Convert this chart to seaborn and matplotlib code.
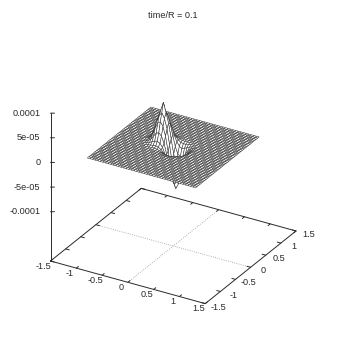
import numpy as np
import matplotlib
matplotlib.use("Agg")
import matplotlib.pyplot as plt
import seaborn as sns
from mpl_toolkits.mplot3d import proj3d

sns.set_theme(style="white", font="Liberation Sans")

TITLE = "time/R = 0.1"
axis_ticks = [-1.5, -1, -0.5, 0, 0.5, 1, 1.5]
axis_tick_labels = ["-1.5", "-1", "-0.5", "0", "0.5", "1", "1.5"]
z_ticks = [-1e-4, -5e-5, 0, 5e-5, 1e-4]
z_tick_labels = ["-0.0001", "-5e-05", "0", "5e-05", "0.0001"]
z_floor = -2e-4

# surface mesh: flat at zero except for the feature near the centre
mesh_lines = np.linspace(-1.05, 1.05, 43)
feature_x = [-.55, -.50, -.45, -.40, -.35, -.30, -.25, -.20, -.15, -.10, -.05, 0, .05, .10, .15, .20, .25, .30]
feature_y = [.40, .35, .30, .25, .20, .15, .10, .05, 0, -.05, -.10, -.15, -.20, -.25, -.30]
# heights in units of 1e-5 (rows follow feature_y)
feature_z = [
    [0, 0, 0, 0, .05, .08, .1, .08, .05, 0, 0, 0, 0, 0, 0, 0, 0, 0],
    [0, 0, .05, .1, .2, .3, .35, .3, .2, .1, .03, -.02, -.03, -.02, 0, 0, 0, 0],
    [0, .05, .15, .35, .65, .95, 1.1, .95, .65, .32, .1, -.05, -.1, -.1, -.05, -.03, 0, 0],
    [0, .1, .35, .85, 1.6, 2.3, 2.6, 2.3, 1.55, .75, .15, -.2, -.35, -.3, -.2, -.1, -.05, 0],
    [.05, .2, .65, 1.6, 3.0, 4.1, 4.6, 4.05, 2.85, 1.25, .05, -.7, -1.05, -.9, -.6, -.35, -.15, -.05],
    [.1, .3, .95, 2.3, 4.1, 5.4, 6.2, 5.3, 3.75, 1.5, -.65, -2.0, -2.5, -2.3, -1.6, -.8, -.35, -.1],
    [.1, .35, 1.1, 2.6, 4.6, 6.2, 7.95, 6.0, 4.0, 1.0, -1.9, -3.95, -4.9, -4.3, -3.0, -1.6, -.6, -.2],
    [.1, .3, .95, 2.3, 4.1, 5.4, 6.1, 5.1, 3.2, 0, -3.35, -6.0, -7.0, -6.3, -4.3, -2.3, -.9, -.3],
    [.05, .2, .65, 1.6, 3.0, 4.1, 4.5, 3.75, 1.9, -1.0, -4.35, -6.9, -8.15, -7.1, -5.0, -2.6, -1.1, -.35],
    [0, .1, .35, .85, 1.6, 2.3, 2.5, 2.0, .7, -1.45, -4.2, -6.2, -7.1, -6.3, -4.3, -2.3, -.9, -.3],
    [0, .05, .15, .35, .65, .9, 1.05, .75, .05, -1.25, -2.85, -4.25, -5.0, -4.3, -3.0, -1.6, -.6, -.2],
    [0, 0, .05, .1, .2, .3, .3, .2, -.15, -.7, -1.6, -2.3, -2.6, -2.3, -1.6, -.8, -.35, -.1],
    [0, 0, 0, 0, .05, .08, .1, .03, -.1, -.35, -.6, -.9, -1.1, -.9, -.6, -.35, -.15, -.05],
    [0, 0, 0, 0, 0, 0, 0, -.02, -.05, -.1, -.2, -.3, -.35, -.3, -.2, -.1, -.05, 0],
    [0, 0, 0, 0, 0, 0, 0, 0, -.02, -.03, -.05, -.1, -.1, -.1, -.05, -.03, 0, 0],
]

Z = np.zeros((mesh_lines.size, mesh_lines.size))
for r, fy in enumerate(feature_y):
    for c, fx in enumerate(feature_x):
        Z[np.argmin(abs(mesh_lines - fy)), np.argmin(abs(mesh_lines - fx))] = feature_z[r][c] * 1e-5
X, Y = np.meshgrid(mesh_lines, mesh_lines)

W, H = 346, 345
fig = plt.figure(figsize=(W / 100, H / 100), dpi=100)
ax = fig.add_axes([0, 0, 1, 1], projection="3d", proj_type="ortho", computed_zorder=False)
ax.set_box_aspect((180, 180, 168))
ax.view_init(elev=28, azim=-59.6)
ax.set_xlim(-1.5, 1.5)
ax.set_ylim(-1.5, 1.5)
ax.set_zlim(z_floor, 1e-4)
ax.set_axis_off()
ax.patch.set_alpha(0)

INK = "#2a2a2a"
lw = 0.7
e = 1.5
# base frame
ax.plot([-e, e, e, -e, -e], [-e, -e, e, e, -e], [z_floor] * 5, color=INK, lw=lw, zorder=1)
# vertical axis
ax.plot([-e, -e], [-e, -e], [z_floor, z_ticks[-1]], color=INK, lw=lw, zorder=1)
# dotted zero lines on the floor
ax.plot([0, 0], [-e, e], [z_floor] * 2, color="#999999", lw=0.6, ls=":", zorder=1)
ax.plot([-e, e], [0, 0], [z_floor] * 2, color="#999999", lw=0.6, ls=":", zorder=1)

tl = 0.07
for t in axis_ticks:
    ax.plot([t, t], [-e, -e + tl], [z_floor] * 2, color=INK, lw=lw, zorder=1)
    ax.plot([t, t], [e, e - tl], [z_floor] * 2, color=INK, lw=lw, zorder=1)
    ax.plot([-e, -e + tl], [t, t], [z_floor] * 2, color=INK, lw=lw, zorder=1)
    ax.plot([e, e - tl], [t, t], [z_floor] * 2, color=INK, lw=lw, zorder=1)
for t in z_ticks:
    ax.plot([-e, -e + 0.0575], [-e, -e + 0.034], [t, t], color=INK, lw=lw, zorder=1)

ax.plot_surface(X, Y, Z, rstride=1, cstride=1, color="white", shade=False,
                edgecolor="#383838", linewidth=0.38, antialiased=True, zorder=3)


def pixel(x, y, z):
    ax.apply_aspect()
    px, py, _ = proj3d.proj_transform(x, y, z, ax.get_proj())
    return ax.transData.transform((px, py))


# place the axes so the floor corners fall where the reference has them
target_left = np.array([50.5, H - 261.0])
target_right = np.array([296.0, H - 230.0])
for _ in range(3):
    a, b = pixel(-e, -e, z_floor), pixel(e, e, z_floor)
    scale = (target_right[0] - target_left[0]) / (b[0] - a[0])
    pos = ax.get_position(original=True)
    size = pos.width * scale
    ax.set_position([pos.x0, pos.y0, size, size])
    a = pixel(-e, -e, z_floor)
    pos = ax.get_position(original=True)
    ax.set_position([pos.x0 + (target_left[0] - a[0]) / W,
                     pos.y0 + (target_left[1] - a[1]) / H, pos.width, pos.height])


def label(x, y, z, text, **kw):
    p = pixel(x, y, z)
    fig.text(p[0] / W, p[1] / H, text, va="center", fontsize=6.6, color=INK, **kw)


for t, lab in zip(axis_ticks, axis_tick_labels):
    label(t, -e - 0.22, z_floor, lab, ha="center")
    label(e + 0.25, t, z_floor, lab, ha="center")
for t, lab in zip(z_ticks, z_tick_labels):
    label(-e - 0.144, -e - 0.085, t, lab, ha="right")

fig.text(0.5, 1 - 16 / H, TITLE, ha="center", va="center", fontsize=6.6, color=INK)

fig.savefig("out.png", dpi=100, facecolor="white")
